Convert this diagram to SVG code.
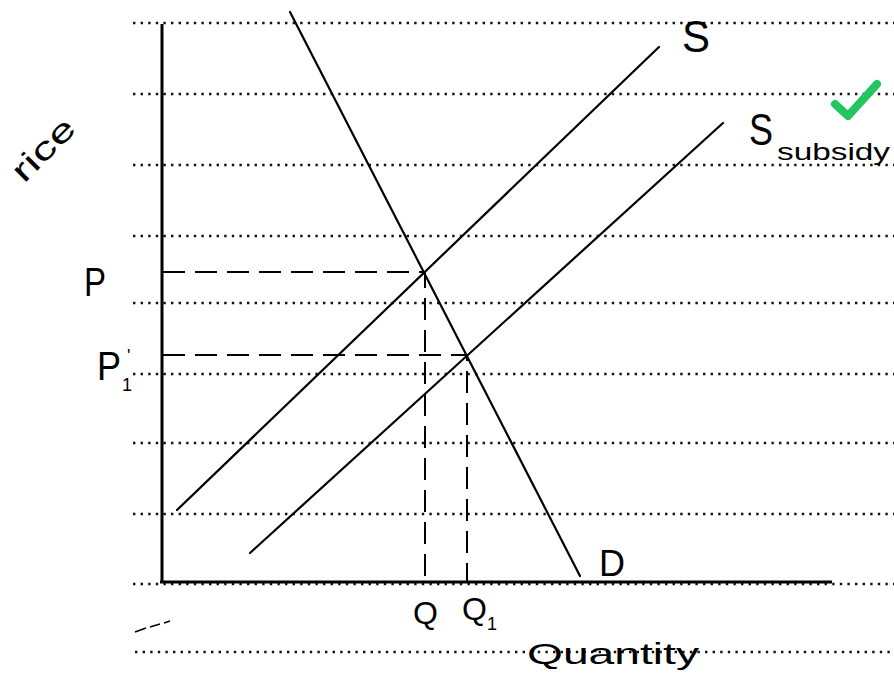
<svg xmlns="http://www.w3.org/2000/svg" width="894" height="682" viewBox="0 0 894 682">
<style>
.rule{stroke:#111;stroke-width:2.4;stroke-dasharray:2.4 5.2;fill:none}
.axis{stroke:#000;stroke-width:3;fill:none}
.curve{stroke:#000;stroke-width:2.2;fill:none;stroke-linecap:round}
.guide{stroke:#000;stroke-width:2;stroke-dasharray:22 10;fill:none}
.lbl{font-family:"Liberation Sans","DejaVu Sans",sans-serif;fill:#000}
</style>
<rect width="894" height="682" fill="#fff"/>
<g id="ruled-lines">
<line class="rule" x1="133" y1="23" x2="894" y2="23"/>
<line class="rule" x1="133" y1="94" x2="894" y2="94"/>
<line class="rule" x1="133" y1="165" x2="894" y2="165"/>
<line class="rule" x1="133" y1="236" x2="894" y2="236"/>
<line class="rule" x1="133" y1="303" x2="894" y2="303"/>
<line class="rule" x1="133" y1="374" x2="894" y2="374"/>
<line class="rule" x1="133" y1="443" x2="894" y2="443"/>
<line class="rule" x1="133" y1="514" x2="894" y2="514"/>
<line class="rule" x1="133" y1="584" x2="894" y2="584"/>
<line class="rule" x1="135" y1="652" x2="894" y2="652"/>
</g>
<g id="axes">
<line class="axis" x1="162" y1="24" x2="162" y2="583"/>
<line class="axis" x1="160" y1="582" x2="832" y2="582"/>
</g>
<g id="demand">
<line class="curve" x1="290" y1="12" x2="580" y2="576"/>
<text class="lbl" x="599" y="576" font-size="36" textLength="26" lengthAdjust="spacingAndGlyphs">D</text>
</g>
<g id="supply">
<line class="curve" x1="177" y1="510" x2="659" y2="47"/>
<text class="lbl" x="682" y="52" font-size="44" textLength="28" lengthAdjust="spacingAndGlyphs">S</text>
</g>
<g id="supply-subsidy">
<line class="curve" x1="250" y1="553" x2="723" y2="123"/>
<text class="lbl" x="749" y="145" font-size="44" textLength="24" lengthAdjust="spacingAndGlyphs">S</text>
<text class="lbl" x="777" y="160" font-size="24" textLength="113" lengthAdjust="spacingAndGlyphs">subsidy</text>
</g>
<g id="connectors">
<polyline class="guide" points="163,272 425,272 425,582"/>
<polyline class="guide" points="163,355 467,355 467,582"/>
</g>
<g id="labels">
<text class="lbl" x="84" y="296" font-size="40" textLength="22" lengthAdjust="spacingAndGlyphs">P</text>
<text class="lbl" x="97" y="380" font-size="40" textLength="24" lengthAdjust="spacingAndGlyphs">P</text>
<text class="lbl" x="122" y="391" font-size="18">1</text>
<text class="lbl" x="127" y="362" font-size="18">'</text>
<text class="lbl" x="413" y="624" font-size="32">Q</text>
<text class="lbl" x="462" y="620" font-size="32">Q</text>
<text class="lbl" x="487" y="630" font-size="18">1</text>
<text class="lbl" x="527" y="664" font-size="30" textLength="172" lengthAdjust="spacingAndGlyphs">Quantity</text>
<text class="lbl" x="0" y="0" font-size="32" textLength="76" lengthAdjust="spacingAndGlyphs" transform="translate(24,184) rotate(-45)">rice</text>
<path d="M135,632 L146,628 M150,627 L160,624 M164,623 L170,621" stroke="#000" stroke-width="1.5" fill="none"/>
</g>
<g id="check">
<path d="M835,104 L848,116 L877,84" stroke="#22c55e" stroke-width="8" fill="none" stroke-linecap="round" stroke-linejoin="round"/>
</g>
</svg>
